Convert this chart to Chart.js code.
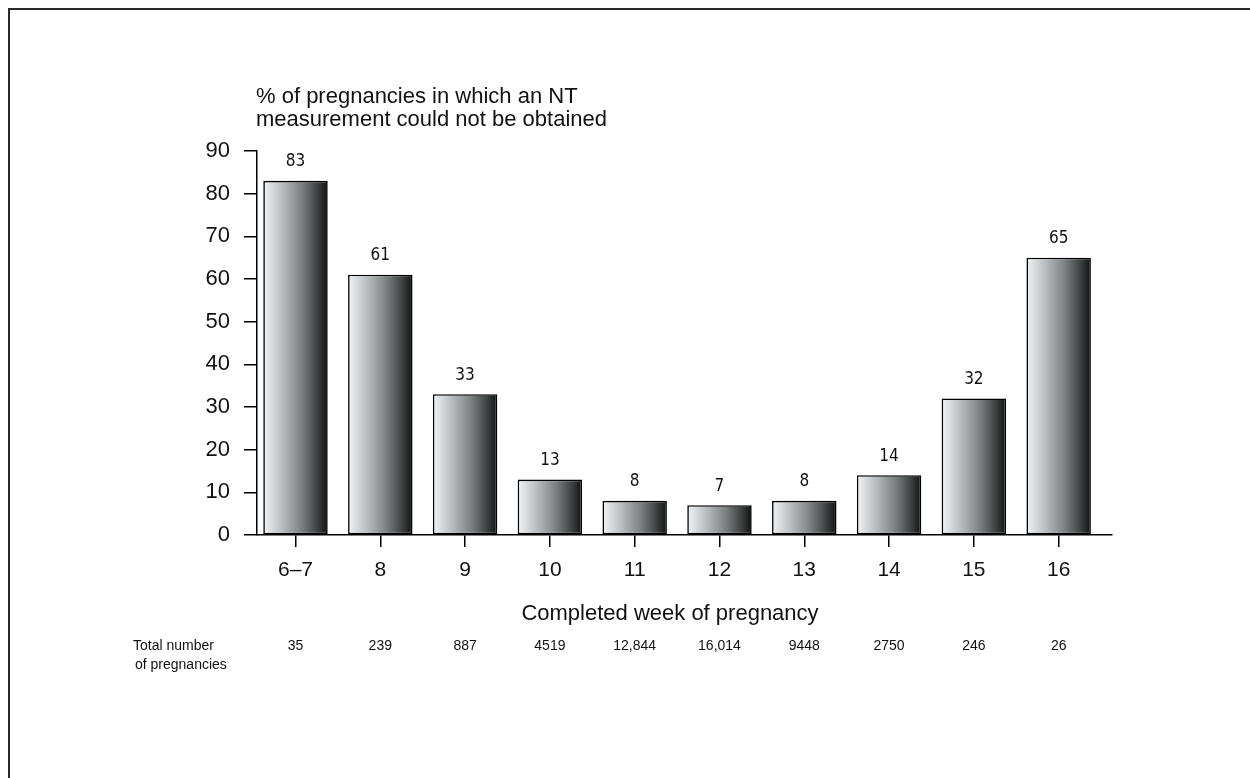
<!DOCTYPE html>
<html>
<head>
<meta charset="utf-8">
<script src="https://cdn.jsdelivr.net/npm/chart.js@4.4.1/dist/chart.umd.min.js"></script>
<style>
  html, body { margin: 0; padding: 0; background: #fff; }
  #wrap { position: relative; width: 1250px; height: 778px; }
  canvas { display: block; }
</style>
</head>
<body>
<div id="wrap"><canvas id="c" width="1250" height="778"></canvas></div>
<script>
// ---- data ----
const categories = ['6–7', '8', '9', '10', '11', '12', '13', '14', '15', '16'];
const percentNotObtained = [83, 61, 33, 13, 8, 7, 8, 14, 32, 65];
const totalPregnancies = ['35', '239', '887', '4519', '12,844', '16,014', '9448', '2750', '246', '26'];
const yTickValues = [0, 10, 20, 30, 40, 50, 60, 70, 80, 90];
const yAxisTitleLines = ['% of pregnancies in which an NT', 'measurement could not be obtained'];
const xAxisTitle = 'Completed week of pregnancy';
const totalsLabelLines = ['Total number', 'of pregnancies'];

const MAIN_FONT = "'Liberation Sans', Arial, sans-serif";
const NARROW_FONT = "'Liberation Sans Narrow', 'DejaVu Sans Condensed', sans-serif";

function barGradient(c) {
  const chart = c.chart;
  const xs = chart.scales && chart.scales.x;
  if (!xs || !chart.chartArea || c.dataIndex === undefined) return '#888';
  const cx = xs.getPixelForValue(c.dataIndex);
  const unit = xs.getPixelForValue(1) - xs.getPixelForValue(0);
  const hw = unit * 0.76 / 2;
  const g = chart.ctx.createLinearGradient(cx - hw, 0, cx + hw, 0);
  g.addColorStop(0, '#f1f4f6');
  g.addColorStop(0.3, '#b9bcbe');
  g.addColorStop(0.6, '#7c7f7f');
  g.addColorStop(0.85, '#3b3e3e');
  g.addColorStop(1, '#101212');
  return g;
}

const decorPlugin = {
  id: 'decor',
  afterDatasetsDraw(chart) {
    const ctx = chart.ctx;
    const meta = chart.getDatasetMeta(0);
    ctx.save();
    ctx.fillStyle = '#111';
    ctx.font = '17px ' + NARROW_FONT;
    ctx.textAlign = 'center';
    ctx.textBaseline = 'middle';
    meta.data.forEach((el, i) => {
      ctx.fillText(String(percentNotObtained[i]), el.x, el.y - 19);
    });
    ctx.restore();
  },
  afterDraw(chart) {
    const ctx = chart.ctx;
    const xs = chart.scales.x;
    const ys = chart.scales.y;
    ctx.save();
    // frame
    ctx.strokeStyle = '#2a2a2a';
    ctx.lineWidth = 2;
    ctx.beginPath();
    ctx.moveTo(9, 778);
    ctx.lineTo(9, 9);
    ctx.lineTo(1250, 9);
    ctx.stroke();
    // y axis title
    ctx.fillStyle = '#111';
    ctx.font = '22px ' + MAIN_FONT;
    ctx.textAlign = 'left';
    ctx.textBaseline = 'middle';
    ctx.fillText(yAxisTitleLines[0], 256, 97);
    ctx.fillText(yAxisTitleLines[1], 256, 120);
    // x axis title
    ctx.textAlign = 'center';
    ctx.fillText(xAxisTitle, 670, 614);
    // totals row
    ctx.font = '14px ' + MAIN_FONT;
    ctx.textAlign = 'left';
    ctx.fillText(totalsLabelLines[0], 133, 646);
    ctx.fillText(totalsLabelLines[1], 135, 665);
    ctx.textAlign = 'center';
    totalPregnancies.forEach((t, i) => {
      ctx.fillText(t, xs.getPixelForValue(i), 646);
    });
    ctx.restore();
  }
};

new Chart(document.getElementById('c'), {
  type: 'bar',
  data: {
    datasets: [{
      data: percentNotObtained.map((v, i) => ({ x: i, y: v })),
      backgroundColor: barGradient,
      borderColor: '#000',
      borderWidth: 1.6,
      borderSkipped: false,
      barPercentage: 0.76,
      categoryPercentage: 1.0
    }]
  },
  options: {
    responsive: false,
    animation: false,
    events: [],
    layout: { padding: { left: 0, top: 151, right: 138, bottom: 193 } },
    plugins: { legend: { display: false }, tooltip: { enabled: false }, title: { display: false } },
    scales: {
      x: {
        type: 'linear',
        offset: false,
        min: -0.454,
        max: 9.629,
        afterBuildTicks: (s) => { s.ticks = categories.map((_, i) => ({ value: i })); },
        afterFit: (s) => { s.height = 50; },
        ticks: {
          autoSkip: false,
          maxRotation: 0,
          padding: 11,
          color: '#111',
          font: { family: MAIN_FONT, size: 21 },
          callback: (v) => categories[v]
        },
        grid: { display: true, offset: false, drawOnChartArea: false, drawTicks: true, tickLength: 12, color: '#000', lineWidth: 1.5 },
        border: { display: true, color: '#000', width: 1.5 }
      },
      y: {
        min: 0,
        max: 90,
        afterBuildTicks: (s) => { s.ticks = yTickValues.map(v => ({ value: v })); },
        afterFit: (s) => { s.width = 257; },
        ticks: {
          padding: 14,
          color: '#111',
          font: { family: MAIN_FONT, size: 22 }
        },
        grid: { display: true, drawOnChartArea: false, drawTicks: true, tickLength: 13, color: '#000', lineWidth: 1.5 },
        border: { display: true, color: '#000', width: 1.5 }
      }
    }
  },
  plugins: [decorPlugin]
});
</script>
</body>
</html>
